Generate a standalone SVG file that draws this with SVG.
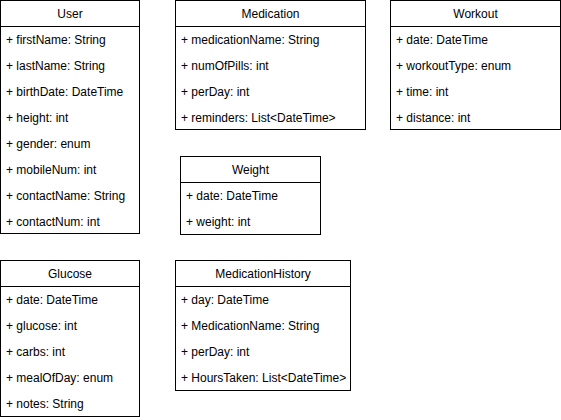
<svg xmlns="http://www.w3.org/2000/svg" width="561" height="420" viewBox="0 0 561 420">
<style>
.box{fill:#fff;stroke:#000;stroke-width:1}
.sep{stroke:#000;stroke-width:1}
text{font-family:"Liberation Sans",Arial,Helvetica,sans-serif;font-size:12px;fill:#000}
.title{text-anchor:middle}
</style>
<rect width="561" height="420" fill="#fff"/>
<g id="connectors"/>
<g id="User">
<rect class="box" x="0.5" y="0.5" width="139" height="233"/>
<line class="sep" x1="0.5" y1="26.5" x2="139.5" y2="26.5"/>
<text class="title" x="70" y="18">User</text>
<text x="6" y="44">+ firstName: String</text>
<text x="6" y="70">+ lastName: String</text>
<text x="6" y="96">+ birthDate: DateTime</text>
<text x="6" y="122">+ height: int</text>
<text x="6" y="148">+ gender: enum</text>
<text x="6" y="174">+ mobileNum: int</text>
<text x="6" y="200">+ contactName: String</text>
<text x="6" y="226">+ contactNum: int</text>
</g>
<g id="Medication">
<rect class="box" x="175.5" y="0.5" width="190" height="129"/>
<line class="sep" x1="175.5" y1="26.5" x2="365.5" y2="26.5"/>
<text class="title" x="270.5" y="18">Medication</text>
<text x="181" y="44">+ medicationName: String</text>
<text x="181" y="70">+ numOfPills: int</text>
<text x="181" y="96">+ perDay: int</text>
<text x="181" y="122">+ reminders: List&lt;DateTime&gt;</text>
</g>
<g id="Workout">
<rect class="box" x="390.5" y="0.5" width="170" height="129"/>
<line class="sep" x1="390.5" y1="26.5" x2="560.5" y2="26.5"/>
<text class="title" x="475.5" y="18">Workout</text>
<text x="396" y="44">+ date: DateTime</text>
<text x="396" y="70">+ workoutType: enum</text>
<text x="396" y="96">+ time: int</text>
<text x="396" y="122">+ distance: int</text>
</g>
<g id="Weight">
<rect class="box" x="180.5" y="156.5" width="140" height="78"/>
<line class="sep" x1="180.5" y1="182.5" x2="320.5" y2="182.5"/>
<text class="title" x="250.5" y="174">Weight</text>
<text x="186" y="200">+ date: DateTime</text>
<text x="186" y="226">+ weight: int</text>
</g>
<g id="Glucose">
<rect class="box" x="0.5" y="260.5" width="139" height="156"/>
<line class="sep" x1="0.5" y1="286.5" x2="139.5" y2="286.5"/>
<text class="title" x="70" y="278">Glucose</text>
<text x="6" y="304">+ date: DateTime</text>
<text x="6" y="330">+ glucose: int</text>
<text x="6" y="356">+ carbs: int</text>
<text x="6" y="382">+ mealOfDay: enum</text>
<text x="6" y="408">+ notes: String</text>
</g>
<g id="MedicationHistory">
<rect class="box" x="175.5" y="260.5" width="175" height="130"/>
<line class="sep" x1="175.5" y1="286.5" x2="350.5" y2="286.5"/>
<text class="title" x="263" y="278">MedicationHistory</text>
<text x="181" y="304">+ day: DateTime</text>
<text x="181" y="330">+ MedicationName: String</text>
<text x="181" y="356">+ perDay: int</text>
<text x="181" y="382">+ HoursTaken: List&lt;DateTime&gt;</text>
</g>
</svg>
